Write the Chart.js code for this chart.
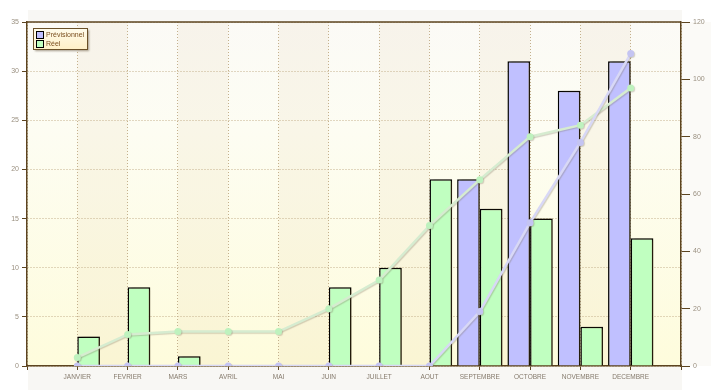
<!DOCTYPE html>
<html>
<head>
<meta charset="utf-8">
<script src="https://cdn.jsdelivr.net/npm/chart.js@4/dist/chart.umd.min.js"></script>
<style>
  body { margin: 0; background: #fff; }
  canvas { display: block; }
</style>
</head>
<body>
<canvas id="chart" width="719" height="390"></canvas>
<script>
// données du graphique
const months = ['JANVIER', 'FEVRIER', 'MARS', 'AVRIL', 'MAI', 'JUIN', 'JUILLET', 'AOUT', 'SEPTEMBRE', 'OCTOBRE', 'NOVEMBRE', 'DECEMBRE'];
const previsionnel = [null, null, null, null, null, null, null, null, 19, 31, 28, 31];
const reel = [3, 8, 1, 0, 0, 8, 10, 19, 16, 15, 4, 13];
const previsionnelCumul = [0, 0, 0, 0, 0, 0, 0, 0, 19, 50, 78, 109];
const reelCumul = [3, 11, 12, 12, 12, 20, 30, 49, 65, 80, 84, 97];
const leftTicks = [0, 5, 10, 15, 20, 25, 30, 35];
const rightTicks = [0, 20, 40, 60, 80, 100, 120];

const axisBrown = '#5c4420';
const tickGray = '#9a9080';
const font = { family: 'Liberation Sans', size: 7 };

function toPoints(arr) {
    return arr.map((v, i) => ({ x: i, y: v }));
}

// fond : zone grise, dégradé et bandes alternées
const backgroundPlugin = {
    id: 'background',
    beforeDraw(chart) {
        const { ctx, chartArea: a, scales } = chart;
        ctx.save();
        ctx.fillStyle = '#f8f7f4';
        ctx.fillRect(a.left + 1, 10, a.right - a.left, chart.height - 10);
        ctx.fillStyle = '#fbfaf7';
        ctx.fillRect(a.right, a.top, 30, a.bottom - a.top);
        const g = ctx.createLinearGradient(0, a.top, 0, a.bottom);
        g.addColorStop(0, '#fbfaf6');
        g.addColorStop(0.3, '#fdfdf3');
        g.addColorStop(1, '#fefcdc');
        ctx.fillStyle = g;
        ctx.fillRect(a.left, a.top, a.right - a.left, a.bottom - a.top);
        // une bande sur deux un peu plus foncée
        const x = scales.x;
        ctx.fillStyle = 'rgba(215,195,150,0.11)';
        for (let k = 1; k <= months.length; k += 2) {
            const x0 = x.getPixelForValue(k - 1);
            const x1 = x.getPixelForValue(k);
            ctx.fillRect(x0, a.top, x1 - x0, a.bottom - a.top);
        }
        ctx.restore();
    },
    afterDraw(chart) {
        const { ctx, chartArea: a } = chart;
        ctx.save();
        ctx.strokeStyle = axisBrown;
        ctx.lineWidth = 1.5;
        ctx.beginPath();
        ctx.moveTo(a.left, a.top);
        ctx.lineTo(a.right, a.top);
        ctx.stroke();

        // légende
        const lx = 33, ly = 28, lw = 54, lh = 21;
        ctx.shadowColor = 'rgba(60,40,10,0.45)';
        ctx.shadowOffsetX = 2;
        ctx.shadowOffsetY = 2;
        ctx.shadowBlur = 2;
        const lg = ctx.createLinearGradient(0, ly, 0, ly + lh);
        lg.addColorStop(0, '#fffcec');
        lg.addColorStop(1, '#fff0c8');
        ctx.fillStyle = lg;
        ctx.fillRect(lx, ly, lw, lh);
        ctx.shadowColor = 'transparent';
        ctx.lineWidth = 1;
        ctx.strokeStyle = '#6a5028';
        ctx.strokeRect(lx + 0.5, ly + 0.5, lw, lh);
        const items = chart.data.datasets.filter(d => d.type === 'bar');
        ctx.font = '7px "Liberation Sans"';
        ctx.textBaseline = 'middle';
        items.forEach((d, i) => {
            const y = ly + 3 + i * 9;
            ctx.fillStyle = d.backgroundColor;
            ctx.fillRect(lx + 3, y, 7, 7);
            ctx.strokeStyle = '#000';
            ctx.strokeRect(lx + 3.5, y + 0.5, 7, 7);
            ctx.fillStyle = '#7a4e1e';
            ctx.fillText(d.label, lx + 13, y + 4);
        });
        ctx.restore();
    }
};

// ombre portée sous les barres et les courbes
const shadowPlugin = {
    id: 'shadow',
    beforeDatasetDraw(chart, args) {
        const ds = chart.data.datasets[args.index];
        const ctx = chart.ctx;
        ctx.save();
        if (ds.type === 'bar') {
            ctx.shadowColor = 'rgba(90,70,30,0.4)';
            ctx.shadowOffsetX = 4;
            ctx.shadowOffsetY = 0;
            ctx.shadowBlur = 3;
        } else {
            ctx.shadowColor = 'rgba(120,110,90,0.3)';
            ctx.shadowOffsetX = 1;
            ctx.shadowOffsetY = 1;
            ctx.shadowBlur = 1;
        }
    },
    afterDatasetDraw(chart) {
        chart.ctx.restore();
    }
};

const ctx = document.getElementById('chart').getContext('2d');
new Chart(ctx, {
    type: 'bar',
    data: {
        datasets: [
            {
                type: 'line',
                label: 'Prévisionnel cumulé',
                data: toPoints(previsionnelCumul),
                yAxisID: 'y1',
                borderColor: '#d8d8f6',
                borderWidth: 2.5,
                pointBackgroundColor: '#c4c4f2',
                pointBorderWidth: 0,
                pointRadius: 3.5,
                order: 0
            },
            {
                type: 'line',
                label: 'Réel cumulé',
                data: toPoints(reelCumul),
                yAxisID: 'y1',
                borderColor: '#d6ecd0',
                borderWidth: 2.5,
                pointBackgroundColor: '#bef2be',
                pointBorderWidth: 0,
                pointRadius: 3.5,
                order: 0
            },
            {
                type: 'bar',
                label: 'Prévisionnel',
                data: toPoints(previsionnel),
                yAxisID: 'y',
                backgroundColor: '#c0c0ff',
                borderColor: '#000',
                borderWidth: 1.5,
                categoryPercentage: 0.9,
                barPercentage: 1,
                order: 1
            },
            {
                type: 'bar',
                label: 'Réel',
                data: toPoints(reel),
                yAxisID: 'y',
                backgroundColor: '#c0ffc0',
                borderColor: '#000',
                borderWidth: 1.5,
                categoryPercentage: 0.9,
                barPercentage: 1,
                order: 1
            }
        ]
    },
    options: {
        responsive: false,
        animation: false,
        layout: { padding: { top: 22, left: 0, right: 0, bottom: 0 } },
        plugins: {
            legend: { display: false },
            tooltip: { enabled: false }
        },
        scales: {
            x: {
                type: 'linear',
                min: -1,
                max: 12,
                offset: false,
                afterFit: (s) => { s.height = 24; },
                afterBuildTicks: (s) => {
                    s.ticks = [];
                    for (let i = -1; i <= 12; i++) s.ticks.push({ value: i });
                },
                ticks: {
                    autoSkip: false,
                    maxRotation: 0,
                    color: '#857a6c',
                    font: { family: 'Liberation Sans', size: 6.5 },
                    padding: 3,
                    callback: (v) => months[v] || ''
                },
                grid: {
                    offset: false,
                    color: '#c4b08c',
                    tickColor: axisBrown,
                    tickLength: 4,
                    tickBorderDash: []
                },
                border: { color: axisBrown, width: 1.5, dash: [1, 2] }
            },
            y: {
                position: 'left',
                min: 0,
                max: 35,
                afterFit: (s) => { s.width = 27; },
                afterBuildTicks: (s) => { s.ticks = leftTicks.map(v => ({ value: v })); },
                ticks: { color: tickGray, font: font, padding: 3 },
                grid: {
                    color: '#c4b08c',
                    tickColor: axisBrown,
                    tickLength: 5,
                    tickBorderDash: []
                },
                border: { color: axisBrown, width: 1.5, dash: [1, 2] }
            },
            y1: {
                position: 'right',
                min: 0,
                max: 120,
                afterFit: (s) => { s.width = 38; },
                afterBuildTicks: (s) => { s.ticks = rightTicks.map(v => ({ value: v })); },
                ticks: { color: tickGray, font: font, padding: 3 },
                grid: {
                    drawOnChartArea: false,
                    tickColor: axisBrown,
                    tickLength: 9
                },
                border: { color: axisBrown, width: 1.5 }
            }
        }
    },
    plugins: [backgroundPlugin, shadowPlugin]
});
</script>
</body>
</html>
